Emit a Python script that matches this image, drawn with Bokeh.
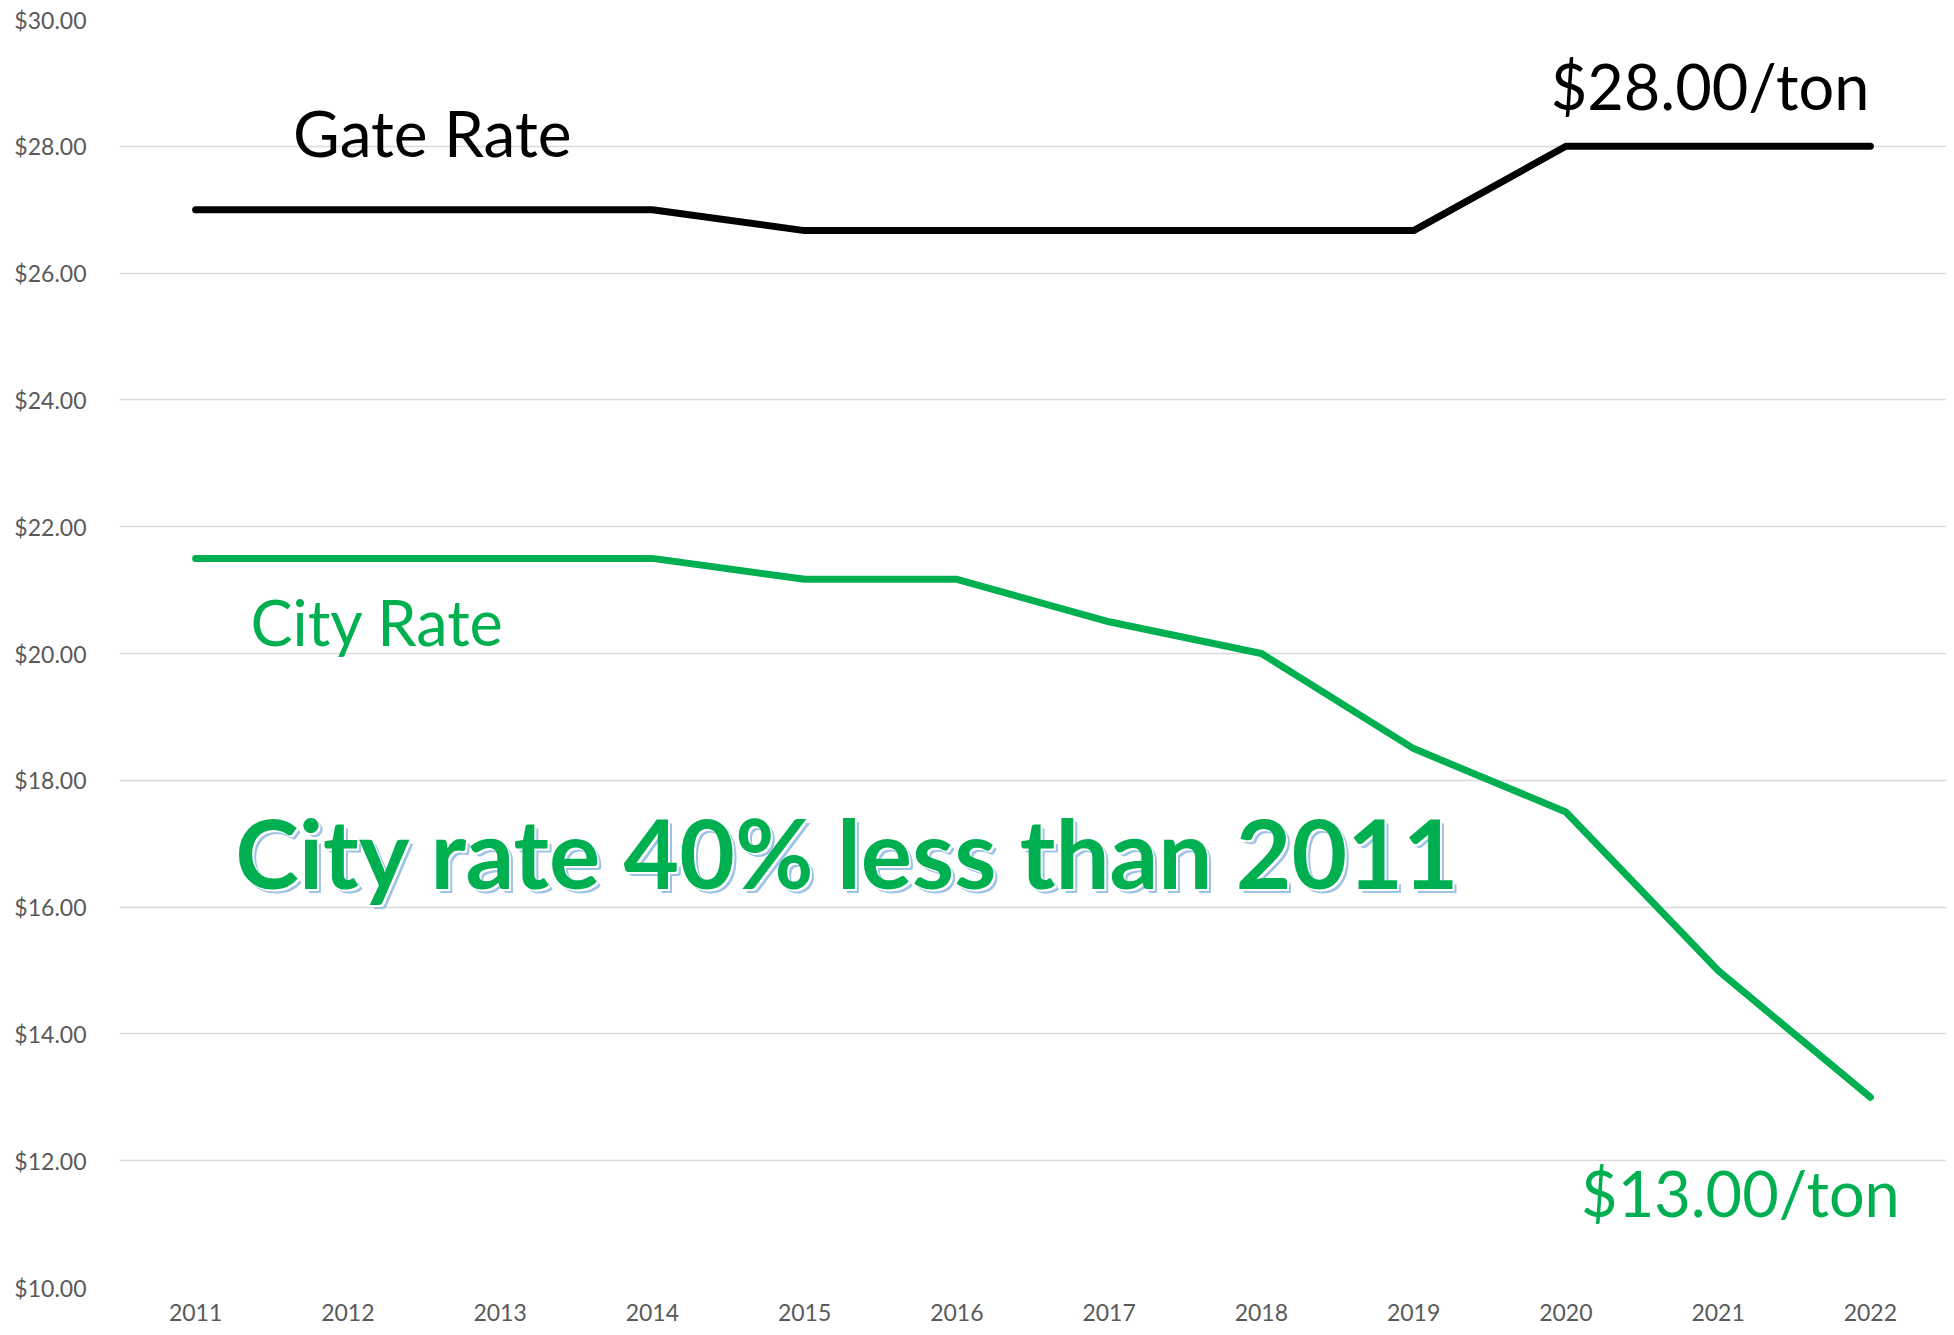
from bokeh.plotting import figure
from bokeh.models import FixedTicker, NumeralTickFormatter, Range1d
from bokeh.core.properties import value
from bokeh.embed import file_html
from bokeh.resources import INLINE

years = [2011, 2012, 2013, 2014, 2015, 2016, 2017, 2018, 2019, 2020, 2021, 2022]
gate_rate = [27.0, 27.0, 27.0, 27.0, 26.67, 26.67, 26.67, 26.67, 26.67, 28.0, 28.0, 28.0]
city_rate = [21.5, 21.5, 21.5, 21.5, 21.17, 21.17, 20.5, 20.0, 18.5, 17.5, 15.0, 13.0]
y_ticks = [10, 12, 14, 16, 18, 20, 22, 24, 26, 28, 30]

GREEN = "#00B050"
FONT = "Lato"

p = figure(width=1946, height=1327, output_backend="svg", toolbar_location=None,
           x_range=Range1d(2010.5, 2022.5), y_range=Range1d(10, 30),
           min_border_left=119, min_border_right=0, min_border_top=19, min_border_bottom=40)
p.outline_line_color = None
p.background_fill_color = "white"
p.border_fill_color = "white"

p.xaxis.ticker = FixedTicker(ticks=years)
p.yaxis.ticker = FixedTicker(ticks=y_ticks)
p.yaxis.formatter = NumeralTickFormatter(format="$0.00")
for ax in (p.xaxis, p.yaxis):
    ax.axis_line_color = None
    ax.major_tick_line_color = None
    ax.minor_tick_line_color = None
    ax.major_label_text_font = FONT
    ax.major_label_text_font_size = "23px"
    ax.major_label_text_color = "#595959"
p.yaxis.major_label_standoff = 27
p.xaxis.major_label_standoff = 10

p.xgrid.grid_line_color = None
p.ygrid.grid_line_color = "#d9d9d9"
p.ygrid.grid_line_width = 1.5

p.line(years, gate_rate, line_color="black", line_width=7, line_cap="round", line_join="round")
p.line(years, city_rate, line_color=GREEN, line_width=7, line_cap="round", line_join="round")

def label(x, y, txt, color, size, bold=False, **kw):
    p.text(x=[x], y=[y], text=[txt], text_color=color, text_font=value(FONT),
           text_font_size=size, text_font_style="bold" if bold else "normal",
           text_align="left", text_baseline="alphabetic", **kw)

label(2011.64, 28.22, "Gate Rate", "black", "64px")
label(2011.36, 20.50, "City Rate", GREEN, "63px")
label(2019.90, 28.96, "$28.00/ton", "black", "63px")
label(2020.10, 11.50, "$13.00/ton", GREEN, "63px")

big = "City rate 40% less than 2011"
label(2011.26, 16.88, big, "#9DC3E6", "96px", bold=True, x_offset=4, y_offset=4)
label(2011.26, 16.88, big, "white", "96px", bold=True, x_offset=2, y_offset=2)
label(2011.26, 16.88, big, GREEN, "96px", bold=True)

open("out.html", "w").write(file_html(p, INLINE))
